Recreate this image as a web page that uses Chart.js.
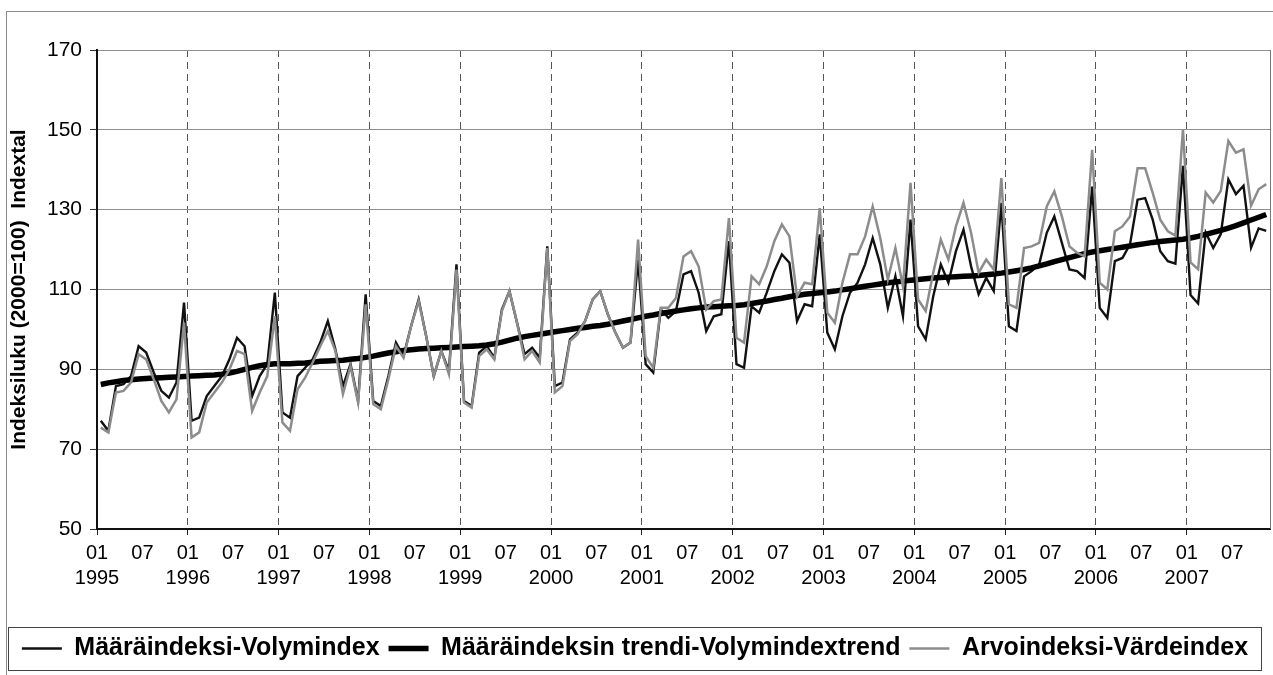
<!DOCTYPE html>
<html>
<head>
<meta charset="utf-8">
<script src="https://cdn.jsdelivr.net/npm/chart.js@4.4.1/dist/chart.umd.min.js"></script>
<style>
  html, body { margin: 0; padding: 0; background: #fff; }
  canvas { display: block; }
</style>
</head>
<body>
<canvas id="indexChart" width="1273" height="675"></canvas>
<script>
// monthly data 1995-01 .. 2007-11
const years = [1995, 1996, 1997, 1998, 1999, 2000, 2001, 2002, 2003, 2004, 2005, 2006, 2007];
const tickMonths = ['01', '07'];

const volume = [
    77.1, 74.6, 85.8, 86.3, 88.3, 95.8, 94.2, 89.2, 84.6, 82.9, 86.7, 106.7,
    77.1, 77.9, 83.3, 85.8, 88.3, 92.5, 97.9, 95.8, 83.3, 88.3, 91.3, 109.2,
    79.2, 77.9, 88.3, 90.4, 92.5, 96.7, 102.1, 95.0, 85.8, 91.3, 82.1, 108.8,
    82.1, 80.8, 88.3, 96.7, 93.3, 100.8, 107.5, 98.3, 88.3, 94.6, 89.6, 116.3,
    82.1, 80.8, 94.2, 95.8, 92.9, 105.0, 109.6, 101.7, 93.8, 95.4, 92.9, 120.8,
    85.8, 86.7, 97.5, 99.2, 102.1, 107.5, 109.6, 103.8, 99.2, 95.4, 96.7, 117.5,
    91.3, 89.2, 105.0, 102.9, 104.6, 113.8, 114.6, 109.2, 99.6, 103.3, 103.8, 122.1,
    91.3, 90.4, 105.8, 104.2, 109.2, 114.6, 118.8, 116.7, 102.1, 106.3, 105.8, 123.8,
    99.2, 95.0, 103.3, 109.2, 111.7, 116.3, 122.9, 116.3, 105.4, 113.3, 103.3, 127.5,
    100.8, 97.5, 108.3, 116.3, 111.7, 119.6, 125.0, 115.8, 108.8, 112.9, 109.6, 131.7,
    100.8, 99.6, 113.3, 114.6, 116.3, 124.2, 128.3, 121.7, 115.0, 114.6, 112.9, 135.8,
    105.4, 102.9, 117.1, 117.9, 121.3, 132.5, 132.9, 127.5, 119.6, 117.1, 116.5, 141.0,
    108.6, 106.5, 124.3, 120.4, 123.9, 137.6, 133.9, 136.0, 120.5, 125.3, 124.7
];

const trend = [
    86.2, 86.6, 86.9, 87.2, 87.4, 87.6, 87.7, 87.8, 87.9, 88.0, 88.1, 88.2,
    88.3, 88.4, 88.5, 88.6, 88.8, 89.1, 89.5, 90.0, 90.5, 90.9, 91.2, 91.4,
    91.4, 91.4, 91.5, 91.6, 91.8, 92.0, 92.1, 92.2, 92.3, 92.5, 92.7, 93.0,
    93.3, 93.7, 94.1, 94.4, 94.7, 94.9, 95.1, 95.2, 95.3, 95.4, 95.5, 95.6,
    95.7, 95.8, 95.9, 96.1, 96.4, 96.8, 97.3, 97.8, 98.2, 98.5, 98.8, 99.1,
    99.4, 99.7, 100.0, 100.3, 100.5, 100.8, 101.0, 101.3, 101.7, 102.1, 102.5, 102.9,
    103.3, 103.6, 104.0, 104.3, 104.6, 104.9, 105.2, 105.4, 105.6, 105.7, 105.8, 105.9,
    106.0, 106.2, 106.5, 106.8, 107.1, 107.5, 107.8, 108.2, 108.5, 108.8, 109.0, 109.2,
    109.4, 109.6, 109.9, 110.2, 110.5, 110.8, 111.1, 111.4, 111.7, 111.9, 112.1, 112.3,
    112.5, 112.7, 112.9, 113.0, 113.1, 113.2, 113.3, 113.4, 113.5, 113.7, 113.9, 114.1,
    114.4, 114.7, 115.0, 115.4, 115.9, 116.4, 117.0, 117.5, 118.0, 118.5, 119.0, 119.4,
    119.7, 120.0, 120.3, 120.6, 120.9, 121.2, 121.5, 121.8, 122.0, 122.2, 122.4, 122.6,
    122.9, 123.3, 123.8, 124.3, 124.8, 125.4, 126.0, 126.7, 127.4, 128.1, 128.8
];

const value = [
    75.4, 74.2, 84.2, 84.6, 86.7, 93.8, 92.5, 87.5, 82.1, 79.2, 82.5, 101.7,
    72.9, 74.2, 81.7, 84.2, 86.7, 90.0, 94.6, 93.8, 79.6, 84.2, 88.3, 103.3,
    76.7, 74.6, 85.0, 87.9, 91.7, 95.8, 99.6, 94.6, 83.8, 90.8, 81.7, 106.3,
    81.3, 80.0, 87.5, 95.8, 92.9, 100.8, 107.1, 98.3, 88.3, 94.6, 88.8, 115.0,
    81.7, 80.4, 93.3, 95.0, 92.5, 104.6, 109.6, 101.7, 92.5, 94.6, 91.7, 120.4,
    84.2, 85.8, 97.1, 98.8, 102.1, 107.5, 109.6, 103.8, 99.2, 95.4, 96.7, 122.5,
    93.3, 90.4, 105.4, 105.4, 107.9, 118.3, 119.6, 115.8, 105.0, 107.1, 107.5, 127.9,
    97.9, 96.7, 113.3, 111.3, 115.8, 122.1, 126.3, 123.3, 108.3, 111.7, 111.3, 130.4,
    104.2, 101.7, 111.7, 118.8, 118.8, 123.3, 130.8, 122.9, 112.5, 120.4, 110.8, 136.7,
    107.5, 104.6, 114.2, 122.5, 117.5, 125.8, 131.7, 124.2, 114.2, 117.5, 115.0, 137.9,
    106.3, 105.4, 120.4, 120.8, 121.7, 130.8, 134.6, 128.3, 120.8, 119.2, 118.3, 145.0,
    111.7, 110.0, 124.6, 125.8, 128.3, 140.4, 140.4, 134.2, 127.5, 124.6, 123.5, 150.1,
    116.8, 115.1, 134.3, 131.8, 134.7, 147.2, 144.3, 145.1, 131.0, 135.1, 136.4
];

const seriesNames = [
    'Määräindeksi-Volymindex',
    'Määräindeksin trendi-Volymindextrend',
    'Arvoindeksi-Värdeindex'
];

const yTitle = 'Indeksiluku (2000=100)  Indextal';

// points sit in the middle of each month band
function toPoints(arr) {
    return arr.map((v, i) => ({ x: i + 0.5, y: v }));
}

const isJanuary = c => c.tick && c.tick.value % 12 === 0;

const framePlugin = {
    id: 'frames',
    beforeDraw(chart) {
        const ctx = chart.ctx;
        ctx.save();
        ctx.fillStyle = '#fff';
        ctx.fillRect(0, 0, chart.width, chart.height);
        ctx.restore();
    },
    afterDraw(chart) {
        const ctx = chart.ctx;
        const a = chart.chartArea;
        const lg = chart.legend;
        ctx.save();
        ctx.lineWidth = 1;
        // outer frame
        ctx.strokeStyle = '#8a8a8a';
        ctx.strokeRect(6.5, 11.5, chart.width + 10, chart.height + 10);
        // right edge of plot
        ctx.strokeStyle = '#777';
        ctx.beginPath();
        ctx.moveTo(Math.round(a.right) + 0.5, a.top);
        ctx.lineTo(Math.round(a.right) + 0.5, a.bottom);
        ctx.stroke();
        // legend box
        ctx.strokeStyle = '#444';
        ctx.strokeRect(8.5, Math.round(lg.top) + 0.5, 1253, Math.round(lg.height) - 1);
        ctx.restore();
    }
};

Chart.defaults.font.family = '"Liberation Sans", Arial, sans-serif';
Chart.defaults.color = '#000';

new Chart(document.getElementById('indexChart'), {
    type: 'line',
    data: {
        datasets: [
            {
                label: seriesNames[0],
                data: toPoints(volume),
                borderColor: '#111',
                borderWidth: 2.4,
                order: 2
            },
            {
                label: seriesNames[1],
                data: toPoints(trend),
                borderColor: '#000',
                borderWidth: 5.5,
                order: 1
            },
            {
                label: seriesNames[2],
                data: toPoints(value),
                borderColor: '#8c8c8c',
                borderWidth: 2.5,
                order: 0
            }
        ]
    },
    options: {
        responsive: false,
        animation: false,
        events: [],
        elements: {
            point: { radius: 0 },
            line: { tension: 0, fill: false }
        },
        layout: {
            padding: { top: 50, right: 3, left: 0, bottom: 4 }
        },
        scales: {
            x: {
                type: 'linear',
                min: 0,
                max: volume.length,
                afterFit: s => { s.height = 98; },
                ticks: {
                    stepSize: 6,
                    includeBounds: false,
                    autoSkip: false,
                    maxRotation: 0,
                    padding: 6,
                    font: { size: 20, lineHeight: 1.25 },
                    callback: v => {
                        if (v % 12 === 0) return [tickMonths[0], String(years[v / 12])];
                        if (v % 12 === 6) return tickMonths[1];
                        return '';
                    }
                },
                grid: {
                    color: c => isJanuary(c) ? '#555' : 'rgba(0,0,0,0)',
                    tickColor: c => isJanuary(c) ? '#222' : 'rgba(0,0,0,0)',
                    lineWidth: 1,
                    tickLength: 6
                },
                border: { color: '#111', width: 2, dash: [7, 5] }
            },
            y: {
                min: 50,
                max: 170,
                afterFit: s => { s.width = 97; },
                ticks: {
                    stepSize: 20,
                    padding: 8,
                    font: { size: 21 }
                },
                grid: {
                    color: '#8f8f8f',
                    lineWidth: 1,
                    tickLength: 7,
                    tickColor: '#333'
                },
                border: { color: '#111', width: 2 },
                title: {
                    display: true,
                    text: yTitle,
                    font: { size: 21, weight: 'bold' },
                    padding: { top: 7, bottom: 0 }
                }
            }
        },
        plugins: {
            tooltip: { enabled: false },
            legend: {
                position: 'bottom',
                labels: {
                    usePointStyle: true,
                    pointStyle: 'line',
                    pointStyleWidth: 40,
                    padding: 9,
                    font: { size: 25, weight: 'bold' },
                    sort: (a, b) => a.datasetIndex - b.datasetIndex
                }
            }
        }
    },
    plugins: [framePlugin]
});
</script>
</body>
</html>
